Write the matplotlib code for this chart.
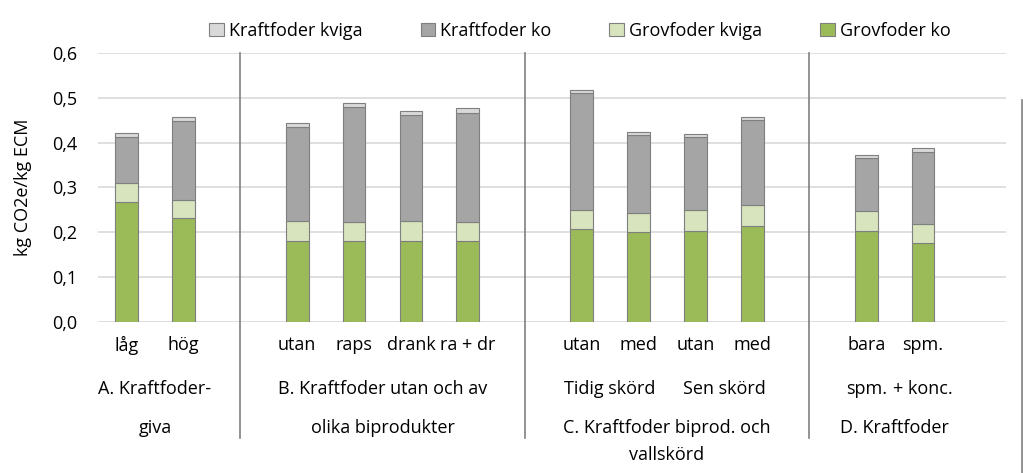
import matplotlib
matplotlib.use("Agg")
import matplotlib.pyplot as plt
from matplotlib.lines import Line2D
from matplotlib.patches import Patch

plt.rcParams['font.family'] = ['Open Sans', 'DejaVu Sans']

# --- data ---
positions = [0, 1, 3, 4, 5, 6, 8, 9, 10, 11, 13, 14]
bar_labels = ["låg", "hög", "utan", "raps", "drank", "ra + dr",
              "utan", "med", "utan", "med", "bara", "spm."]
grovfoder_ko = [0.268, 0.231, 0.181, 0.179, 0.181, 0.179, 0.207, 0.201, 0.2025, 0.214, 0.2025, 0.176]
grovfoder_kviga = [0.041, 0.040, 0.043, 0.0435, 0.043, 0.0435, 0.042, 0.042, 0.0465, 0.047, 0.0435, 0.041]
kraftfoder_ko = [0.103, 0.177, 0.211, 0.2565, 0.237, 0.2425, 0.261, 0.174, 0.163, 0.189, 0.119, 0.162]
kraftfoder_kviga = [0.010, 0.010, 0.008, 0.010, 0.009, 0.011, 0.007, 0.007, 0.006, 0.006, 0.008, 0.008]
series_names = ["Grovfoder ko", "Grovfoder kviga", "Kraftfoder ko", "Kraftfoder kviga"]
colors = ["#9BBB59", "#D7E4BD", "#A5A5A5", "#D9D9D9"]
yticks = [0.0, 0.1, 0.2, 0.3, 0.4, 0.5, 0.6]
ytick_labels = ["0,0", "0,1", "0,2", "0,3", "0,4", "0,5", "0,6"]
dividers = [2, 7, 12]
# second-row labels (x position, text)
row2 = [(0.5, "A. Kraftfoder-"), (4.5, "B. Kraftfoder utan och av"),
        (8.5, "Tidig skörd"), (10.5, "Sen skörd"), (13, "spm."), (14, "+ konc.")]
row3 = [(0.5, "giva"), (4.5, "olika biprodukter"),
        (9.5, "C. Kraftfoder biprod. och"), (13.5, "D. Kraftfoder")]
row4 = [(9.5, "vallskörd")]

fig = plt.figure(figsize=(10.23, 4.73), dpi=100)
ax = fig.add_axes([0.0958, 0.320, 0.8872, 0.568])

series = [grovfoder_ko, grovfoder_kviga, kraftfoder_ko, kraftfoder_kviga]
bottom = [0.0] * len(positions)
for vals, c, name in zip(series, colors, series_names):
    ax.bar(positions, vals, width=0.4, bottom=bottom, color=c,
           edgecolor="#7F7F7F", linewidth=0.8, label=name, zorder=3)
    bottom = [b + v for b, v in zip(bottom, vals)]

ax.set_xlim(-0.5, 15.45)
ax.set_ylim(0, 0.6)
ax.set_yticks(yticks)
ax.set_yticklabels(ytick_labels, fontsize=13)
ax.tick_params(axis='y', length=0, pad=15)
ax.yaxis.grid(True, color="#D9D9D9", linewidth=1.2, zorder=0)
ax.set_axisbelow(True)
for s in ax.spines.values():
    s.set_visible(False)
ax.set_xticks(positions)
ax.set_xticklabels(bar_labels, fontsize=13)
ax.tick_params(axis='x', length=0, pad=10)
ax.set_ylabel("kg CO2e/kg ECM", fontsize=13, labelpad=14)

tr = ax.get_xaxis_transform()
for d in dividers:
    ax.add_line(Line2D([d, d], [1.0, -0.433], transform=tr, color="#808080",
                       linewidth=1.2, clip_on=False))

def ypos(px):
    # pixel row (from top of figure) -> axes y
    return (321.7 - px) / 268.7

for x, t in row2:
    ax.text(x, ypos(389), t, transform=tr, ha='center', va='center', fontsize=13)
for x, t in row3:
    ax.text(x, ypos(428), t, transform=tr, ha='center', va='center', fontsize=13)
for x, t in row4:
    ax.text(x, ypos(455), t, transform=tr, ha='center', va='center', fontsize=13)

handles = [Patch(facecolor=colors[i], edgecolor="#7F7F7F", linewidth=0.8)
           for i in [3, 2, 1, 0]]
labels = [series_names[i] for i in [3, 2, 1, 0]]
fig.legend(handles, labels, loc='center', bbox_to_anchor=(0.567, 0.935), ncol=4,
           frameon=False, fontsize=13, handlelength=0.8, handleheight=0.8,
           handletextpad=0.3, columnspacing=3.2)

fig.add_artist(Line2D([1022 / 1023, 1022 / 1023], [0, 1 - 100 / 473],
                      transform=fig.transFigure, color="#808080", linewidth=1.2))

fig.savefig("out.png", dpi=100)
